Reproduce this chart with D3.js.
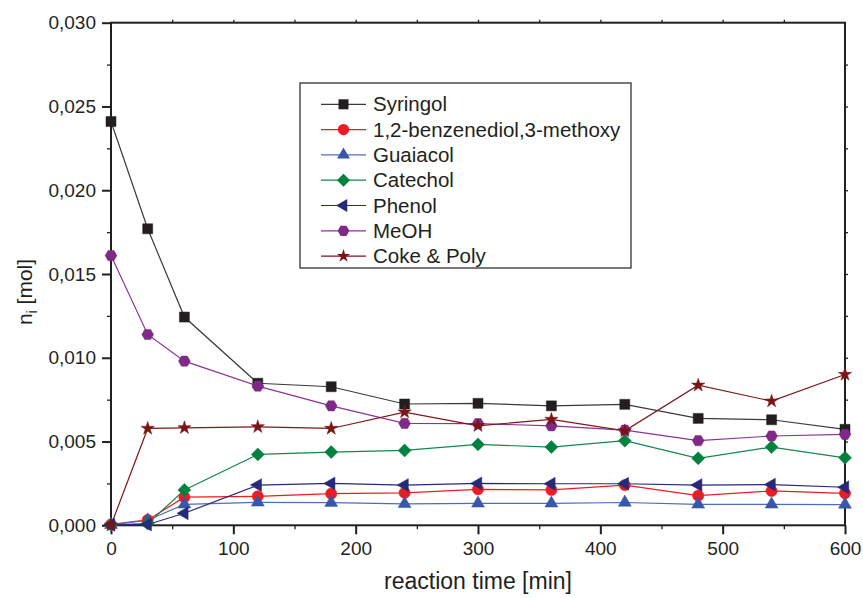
<!DOCTYPE html>
<html>
<head>
<meta charset="utf-8">
<script src="https://cdn.jsdelivr.net/npm/d3@7"></script>
<style>
  body { margin: 0; background: #fff; }
  svg { display: block; font-family: "Liberation Sans", Arial, sans-serif; }
</style>
</head>
<body>
<svg id="chart" width="863" height="598"></svg>
<script>
const times = [0, 30, 60, 120, 180, 240, 300, 360, 420, 480, 540, 600];

const syringol = [0.0241, 0.0177, 0.01243, 0.00848, 0.00827, 0.00724, 0.00728, 0.00713, 0.00722, 0.00638, 0.0063, 0.00573];
const benzenediol = [0.00005, 0.00032, 0.00168, 0.00173, 0.00189, 0.00194, 0.00215, 0.00211, 0.0024, 0.00177, 0.00205, 0.00191];
const guaiacol = [0.00003, 0.0003, 0.00125, 0.00137, 0.00135, 0.00128, 0.00131, 0.00131, 0.00136, 0.00125, 0.00125, 0.00124];
const catechol = [0.00003, 0.0001, 0.00211, 0.00423, 0.00437, 0.00447, 0.00483, 0.00467, 0.00505, 0.004, 0.00467, 0.00403];
const phenol = [0.00003, 0.00005, 0.00072, 0.0024, 0.0025, 0.0024, 0.0025, 0.00248, 0.00248, 0.0024, 0.00243, 0.00227];
const meoh = [0.0161, 0.01139, 0.0098, 0.00831, 0.00713, 0.00608, 0.00607, 0.00594, 0.00568, 0.00505, 0.00533, 0.00543];
const coke = [0.0, 0.00578, 0.00582, 0.00588, 0.00578, 0.00676, 0.00594, 0.00632, 0.00564, 0.00836, 0.00741, 0.009];

const seriesNames = ["Syringol", "1,2-benzenediol,3-methoxy", "Guaiacol", "Catechol", "Phenol", "MeOH", "Coke & Poly"];
const xTicks = [0, 100, 200, 300, 400, 500, 600];
const yTicks = [0, 0.005, 0.010, 0.015, 0.020, 0.025, 0.030];

const symbolHexagon = {
  draw(ctx, size) {
    const r = Math.sqrt(size / (3 * Math.sqrt(3) / 2));
    for (let i = 0; i < 6; i++) {
      const a = i * Math.PI / 3;
      const px = r * Math.cos(a), py = r * Math.sin(a);
      if (i === 0) ctx.moveTo(px, py); else ctx.lineTo(px, py);
    }
    ctx.closePath();
  }
};

const series = [
  { name: seriesNames[0], values: syringol, line: "#3a3a3a", fill: "#231f20", sym: d3.symbolSquare, size: 100, rot: 0 },
  { name: seriesNames[1], values: benzenediol, line: "#ed1c24", fill: "#ed1c24", sym: d3.symbolCircle, size: 100, rot: 0 },
  { name: seriesNames[2], values: guaiacol, line: "#4a6fba", fill: "#3857a8", sym: d3.symbolTriangle, size: 72, rot: 0 },
  { name: seriesNames[3], values: catechol, line: "#13884a", fill: "#00813f", sym: d3.symbolSquare, size: 84, rot: 45 },
  { name: seriesNames[4], values: phenol, line: "#262a78", fill: "#262a78", sym: d3.symbolTriangle, size: 72, rot: -90 },
  { name: seriesNames[5], values: meoh, line: "#8a3494", fill: "#7f2a86", sym: symbolHexagon, size: 90, rot: 0 },
  { name: seriesNames[6], values: coke, line: "#80161a", fill: "#7a1416", sym: d3.symbolStar, size: 55, rot: 0 }
];

const width = 863, height = 598;
const margin = { top: 22.7, right: 18, bottom: 72.7, left: 111 };
const ink = "#231f20";

const svg = d3.select("#chart");

const x = d3.scaleLinear()
  .domain([0, 600])
  .range([margin.left, width - margin.right]);

const y = d3.scaleLinear()
  .domain([0, 0.030])
  .range([height - margin.bottom, margin.top]);

const fmt = v => d3.format(".3f")(v).replace(".", ",");

// minor ticks
const yMinor = d3.range(0.0025, 0.030, 0.005);
const xMinor = d3.range(50, 600, 100);

svg.append("g")
  .attr("transform", `translate(${margin.left},0)`)
  .call(d3.axisLeft(y).tickValues(yMinor).tickSize(4).tickFormat(""))
  .call(g => g.select(".domain").remove())
  .call(g => g.selectAll("line").attr("stroke", ink).attr("stroke-width", 1.3));

svg.append("g")
  .attr("transform", `translate(0,${height - margin.bottom})`)
  .call(d3.axisBottom(x).tickValues(xMinor).tickSize(4).tickFormat(""))
  .call(g => g.select(".domain").remove())
  .call(g => g.selectAll("line").attr("stroke", ink).attr("stroke-width", 1.3));

// right axis ticks
svg.append("g")
  .attr("transform", `translate(${width - margin.right},0)`)
  .call(d3.axisRight(y).tickValues(d3.range(0.0025, 0.030, 0.0025)).tickSize(3).tickFormat(""))
  .call(g => g.select(".domain").remove())
  .call(g => g.selectAll("line").attr("stroke", ink).attr("stroke-width", 1.3));

// top axis ticks
svg.append("g")
  .attr("transform", `translate(0,${margin.top})`)
  .call(d3.axisTop(x).tickValues(d3.range(50, 600, 50)).tickSize(3).tickFormat(""))
  .call(g => g.select(".domain").remove())
  .call(g => g.selectAll("line").attr("stroke", ink).attr("stroke-width", 1.3));

// major axes
const yAxis = svg.append("g")
  .attr("transform", `translate(${margin.left},0)`)
  .call(d3.axisLeft(y).tickValues(yTicks).tickSize(9).tickPadding(6).tickFormat(fmt));
yAxis.select(".domain").remove();
yAxis.selectAll("line").attr("stroke", ink).attr("stroke-width", 2);
yAxis.selectAll("text").attr("fill", ink).attr("font-size", 19).attr("font-family", "Liberation Sans, Arial, sans-serif");

const xAxis = svg.append("g")
  .attr("transform", `translate(0,${height - margin.bottom})`)
  .call(d3.axisBottom(x).tickValues(xTicks).tickSize(9).tickPadding(7));
xAxis.select(".domain").remove();
xAxis.selectAll("line").attr("stroke", ink).attr("stroke-width", 2);
xAxis.selectAll("text").attr("fill", ink).attr("font-size", 19).attr("font-family", "Liberation Sans, Arial, sans-serif");

// frame
svg.append("rect")
  .attr("x", margin.left)
  .attr("y", margin.top)
  .attr("width", width - margin.left - margin.right)
  .attr("height", height - margin.top - margin.bottom)
  .attr("fill", "none")
  .attr("stroke", ink)
  .attr("stroke-width", 2);

// lines and markers
const line = d3.line()
  .x((d, i) => x(times[i]))
  .y(d => y(d));

series.forEach(s => {
  svg.append("path")
    .datum(s.values)
    .attr("fill", "none")
    .attr("stroke", s.line)
    .attr("stroke-width", 1.2)
    .attr("d", line);
});

series.forEach(s => {
  const sym = d3.symbol().type(s.sym).size(s.size);
  svg.append("g")
    .selectAll("path")
    .data(s.values)
    .join("path")
    .attr("transform", (d, i) => `translate(${x(times[i])},${y(d)}) rotate(${s.rot})`)
    .attr("d", sym)
    .attr("fill", s.fill)
    .attr("stroke", s.fill)
    .attr("stroke-width", 0.5);
});

// legend
const legend = svg.append("g").attr("transform", "translate(300,83)");
legend.append("rect")
  .attr("width", 331)
  .attr("height", 185)
  .attr("fill", "#fff")
  .attr("stroke", ink)
  .attr("stroke-width", 1.2);

series.forEach((s, i) => {
  const row = legend.append("g").attr("transform", `translate(0,${21.3 + i * 25.3})`);
  row.append("line")
    .attr("x1", 21).attr("x2", 66)
    .attr("stroke", s.line).attr("stroke-width", 1.2);
  row.append("path")
    .attr("transform", `translate(43.5,0) rotate(${s.rot})`)
    .attr("d", d3.symbol().type(s.sym).size(s.size))
    .attr("fill", s.fill);
  row.append("text")
    .attr("x", 73)
    .attr("y", 7)
    .attr("font-size", 20.5)
    .attr("fill", ink)
    .text(s.name);
});

// axis titles
svg.append("text")
  .attr("x", (margin.left + width - margin.right) / 2)
  .attr("y", 589)
  .attr("text-anchor", "middle")
  .attr("font-size", 23)
  .attr("fill", ink)
  .text("reaction time [min]");

const yTitle = svg.append("text")
  .attr("transform", "translate(32,292) rotate(-90)")
  .attr("text-anchor", "middle")
  .attr("font-size", 21)
  .attr("fill", ink);
yTitle.append("tspan").text("n");
yTitle.append("tspan").attr("font-size", 14).attr("dy", 5).text("i");
yTitle.append("tspan").attr("dy", -5).text(" [mol]");
</script>
</body>
</html>
